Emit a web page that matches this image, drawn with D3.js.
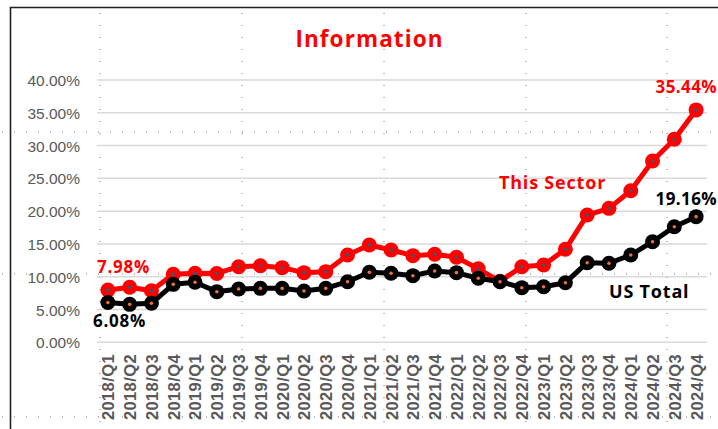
<!DOCTYPE html>
<html>
<head>
<meta charset="utf-8">
<script src="https://cdn.jsdelivr.net/npm/d3@7"></script>
<style>
  body { margin: 0; background: #fff; }
  svg { display: block; }
</style>
</head>
<body>
<svg width="718" height="429"></svg>
<script>
// quarters on the x axis
const quarters = [
  '2018/Q1','2018/Q2','2018/Q3','2018/Q4',
  '2019/Q1','2019/Q2','2019/Q3','2019/Q4',
  '2020/Q1','2020/Q2','2020/Q3','2020/Q4',
  '2021/Q1','2021/Q2','2021/Q3','2021/Q4',
  '2022/Q1','2022/Q2','2022/Q3','2022/Q4',
  '2023/Q1','2023/Q2','2023/Q3','2023/Q4',
  '2024/Q1','2024/Q2','2024/Q3','2024/Q4'
];

// Information sector (%)
const sectorValues = [
  7.98, 8.39, 7.87, 10.37,
  10.52, 10.50, 11.53, 11.68,
  11.38, 10.62, 10.77, 13.31,
  14.84, 14.08, 13.21, 13.42,
  12.96, 11.20, 9.30, 11.53,
  11.79, 14.18, 19.41, 20.43,
  23.12, 27.65, 30.96, 35.44
];

// US total (%)
const usValues = [
  6.08, 5.79, 5.95, 8.84,
  9.15, 7.72, 8.13, 8.23,
  8.23, 7.82, 8.23, 9.24,
  10.68, 10.52, 10.16, 10.87,
  10.62, 9.76, 9.24, 8.33,
  8.48, 9.09, 12.14, 12.05,
  13.31, 15.34, 17.63, 19.16
];

const yTicks = [0, 5, 10, 15, 20, 25, 30, 35, 40];

const svg = d3.select('svg');

// faint worksheet cell dots behind the chart
const cellX = [100, 242, 384, 526, 667];
const cellY = [132, 274, 417];
svg.selectAll('.cellv').data(cellX).enter().append('line')
  .attr('x1', d => d).attr('x2', d => d)
  .attr('y1', 13).attr('y2', 429)
  .attr('stroke', '#777').attr('stroke-width', 1)
  .attr('stroke-dasharray', '1,11');
svg.selectAll('.cellh').data(cellY).enter().append('line')
  .attr('x1', 2).attr('x2', 718)
  .attr('y1', d => d).attr('y2', d => d)
  .attr('stroke', '#777').attr('stroke-width', 1)
  .attr('stroke-dasharray', '1,11');

// chart frame (left & top edges visible)
svg.append('path')
  .attr('d', 'M10.5,429 V7.5 H718')
  .attr('fill', 'none')
  .attr('stroke', '#222')
  .attr('stroke-width', 1.6);

const x = d3.scalePoint().domain(quarters).range([97, 707]).padding(0.5);
const y = d3.scaleLinear().domain([0, 40]).range([342.3, 80]);

// horizontal gridlines
svg.append('g')
  .selectAll('line').data(yTicks).enter().append('line')
  .attr('x1', 97).attr('x2', 707)
  .attr('y1', d => y(d)).attr('y2', d => y(d))
  .attr('stroke', '#d9d9d9').attr('stroke-width', 1.5);

// y axis labels
const yAxis = d3.axisLeft(y).tickValues(yTicks)
  .tickFormat(d => d.toFixed(2) + '%').tickSize(0).tickPadding(0);
const yg = svg.append('g').attr('transform', 'translate(80,0)').call(yAxis);
yg.select('.domain').remove();
yg.selectAll('text')
  .attr('dy', '0.36em')
  .style('font-family', '"Liberation Sans", Arial, sans-serif')
  .style('font-size', '15.5px')
  .attr('fill', '#595959');

// x axis labels (rotated)
const xAxis = d3.axisBottom(x).tickSize(0).tickPadding(0);
const xg = svg.append('g').attr('transform', 'translate(0,350)').call(xAxis);
xg.select('.domain').remove();
xg.selectAll('text')
  .attr('transform', 'rotate(-90)')
  .attr('text-anchor', 'end')
  .attr('x', -4).attr('y', 0).attr('dy', '0.36em')
  .style('font-family', '"Liberation Sans", Arial, sans-serif')
  .style('font-size', '16.5px')
  .style('font-weight', 'bold')
  .style('letter-spacing', '0.4px')
  .attr('fill', '#595959');

const line = d3.line().x((d, i) => x(quarters[i])).y(d => y(d));

function drawSeries(values, color, dotColor) {
  const g = svg.append('g');
  g.append('path').datum(values)
    .attr('d', line)
    .attr('fill', 'none')
    .attr('stroke', color)
    .attr('stroke-width', 5)
    .attr('stroke-linejoin', 'round');
  g.selectAll('.m').data(values).enter().append('circle')
    .attr('cx', (d, i) => x(quarters[i]))
    .attr('cy', d => y(d))
    .attr('r', 7.5)
    .attr('fill', color);
  g.selectAll('.c').data(values).enter().append('circle')
    .attr('cx', (d, i) => x(quarters[i]))
    .attr('cy', d => y(d))
    .attr('r', 1.8)
    .attr('fill', dotColor);
}

drawSeries(sectorValues, '#ff0000', '#3b5670');
drawSeries(usValues, '#000000', '#e97132');

// data labels
const labelFont = '"Open Sans", "DejaVu Sans", sans-serif';
function label(txt, xx, yy, color, size, anchor, spacing) {
  svg.append('text')
    .attr('x', xx).attr('y', yy)
    .attr('text-anchor', anchor || 'start')
    .attr('fill', color)
    .style('font-family', labelFont)
    .style('font-weight', 'bold')
    .style('font-size', size + 'px')
    .style('letter-spacing', (spacing == null ? 0.8 : spacing) + 'px')
    .text(txt);
}
const last = quarters.length - 1;
label(sectorValues[0].toFixed(2) + '%', x(quarters[0]) - 11, y(sectorValues[0]) - 17, '#ff0000', 17);
label(usValues[0].toFixed(2) + '%', x(quarters[0]) - 15, y(usValues[0]) + 25, '#000000', 17);
label(sectorValues[last].toFixed(2) + '%', 717, y(sectorValues[last]) - 17, '#ff0000', 17, 'end', 0.4);
label(usValues[last].toFixed(2) + '%', 717, y(usValues[last]) - 12, '#000000', 17, 'end', 0.4);

// series names
label('This Sector', 499, 189, '#ff0000', 18);
label('US Total', 609, 298, '#000000', 18);

// title
svg.append('text')
  .attr('x', 369.5).attr('y', 47)
  .attr('text-anchor', 'middle')
  .attr('fill', '#ff0000')
  .style('font-family', labelFont)
  .style('font-weight', 'bold')
  .style('font-size', '22.5px')
  .style('letter-spacing', '1.1px')
  .text('Information');
</script>
</body>
</html>
